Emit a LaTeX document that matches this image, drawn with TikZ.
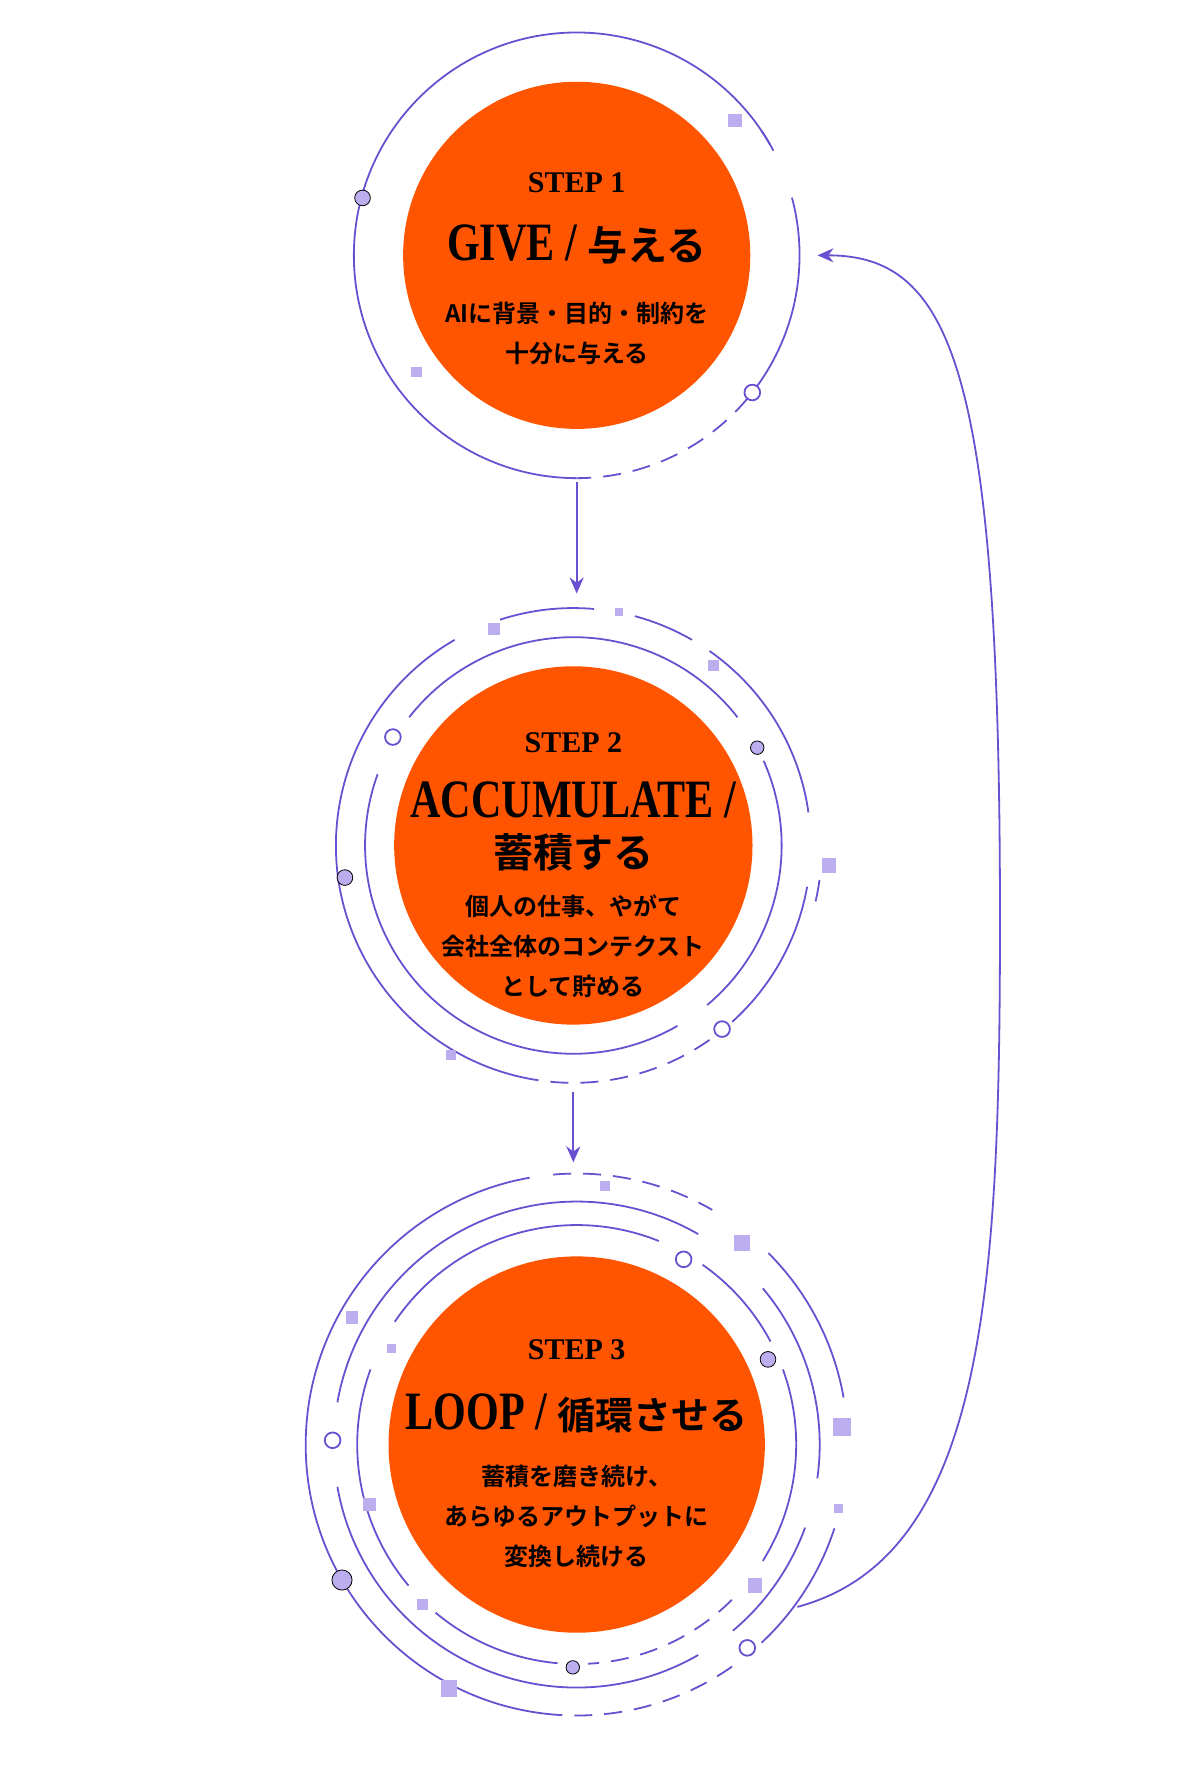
\documentclass[tikz,border=0pt]{standalone}
\usepackage{fontspec}
\setmainfont{Liberation Serif}
\newfontfamily\ttl{Liberation Serif}[FakeStretch=0.78]
\newfontfamily\jp{Noto Sans CJK JP}[BoldFont={Noto Sans CJK JP Bold}]
\usetikzlibrary{arrows.meta}
\definecolor{ringpurple}{HTML}{6A50D0}
\definecolor{lavender}{HTML}{BCADEE}
\definecolor{steporange}{HTML}{FF5400}

\begin{document}
\begin{tikzpicture}[x=0.56pt, y=-0.56pt,
  disc/.style={circle, fill=steporange, inner sep=0pt},
  ring/.style={draw=ringpurple, line width=0.9pt},
  dashring/.style={ring, dash pattern=on 9pt off 6pt},
  hollow/.style={draw=ringpurple, fill=white, line width=0.9pt},
  dot/.style={fill=lavender},
  txt/.style={font=\jp\bfseries\fontsize{12}{20}\selectfont, align=center},
  head/.style={font=\bfseries\fontsize{15}{15}\selectfont},
  title/.style={font=\ttl\bfseries\fontsize{27}{27}\selectfont},
  >={Stealth[length=8pt, width=7pt]}
]
  \useasboundingbox (0,0) rectangle (1057,1586);

  % Step circles
  \node[disc, minimum size=173.6pt] (c1) at (515,228)  {};
  \node[disc, minimum size=179.2pt] (c2) at (512,755)  {};
  \node[disc, minimum size=188.2pt] (c3) at (515,1290) {};

  % Step 1 texts
  \node[head]  (h1) at (515,163) {STEP 1};
  \node[title] (t1) at (515,218) {GIVE / {\jp\fontsize{20}{20}\selectfont 与える}};
  \node[txt]   (b1) at (515,298) {AIに背景・目的・制約を\\十分に与える};

  % Step 2 texts
  \node[head]  (h2) at (512,663) {STEP 2};
  \node[title, align=center] (t2) at (512,738)
    {ACCUMULATE /\\[-2pt]{\jp\fontsize{20}{24}\selectfont 蓄積する}};
  \node[txt]   (b2) at (512,845) {個人の仕事、やがて\\会社全体のコンテクスト\\として貯める};

  % Step 3 texts
  \node[head]  (h3) at (515,1205) {STEP 3};
  \node[title] (t3) at (515,1262) {LOOP / {\jp\fontsize{19}{19}\selectfont 循環させる}};
  \node[txt]   (b3) at (515,1354) {蓄積を磨き続け、\\あらゆるアウトプットに\\変換し続ける};

  % Ring around step 1
  \draw[ring] (c1.center) ++(90:199) arc[start angle=90, end angle=330, radius=199];
  \draw[dashring] (c1.center) ++(40:199) arc[start angle=40, end angle=90, radius=199];
  \draw[ring] (c1.center) ++(-15:199) arc[start angle=-15, end angle=40, radius=199];
  \draw[ring] (c1.center) ++(-34:199) arc[start angle=-34, end angle=-28, radius=199];
  \draw[hollow] (c1.center) ++(38:199) circle[radius=7];
  \draw[dot] (c1.center) ++(195:198) circle[radius=7];
  \fill[lavender] (c1.center) ++(146:178) rectangle ++(9,9);
  \fill[lavender] (c1.center) ++(-43:185) rectangle ++(12,12);

  % Rings around step 2
  \draw[ring] (c2.center) ++(100:212) arc[start angle=100, end angle=240, radius=212];
  \draw[dashring] (c2.center) ++(55:212) arc[start angle=55, end angle=100, radius=212];
  \draw[ring] (c2.center) ++(10:212) arc[start angle=10, end angle=48, radius=212];
  \draw[ring] (c2.center) ++(-55:212) arc[start angle=-55, end angle=-8, radius=212];
  \draw[ring] (c2.center) ++(252:212) arc[start angle=252, end angle=275, radius=212];
  \draw[ring] (c2.center) ++(285:212) arc[start angle=285, end angle=300, radius=212];
  \draw[ring] (c2.center) ++(60:186) arc[start angle=60, end angle=200, radius=186];
  \draw[ring] (c2.center) ++(218:186) arc[start angle=218, end angle=322, radius=186];
  \draw[ring] (c2.center) ++(-24:186) arc[start angle=-24, end angle=50, radius=186];
  \draw[ring] (c2.center) ++(8:222) arc[start angle=8, end angle=13, radius=222];
  \draw[hollow] (c2.center) ++(51:211) circle[radius=7];
  \draw[dot] (c2.center) ++(172:206) circle[radius=7];
  \draw[hollow] (c2.center) ++(211:188) circle[radius=7];
  \draw[dot] (c2.center) ++(-28:186) circle[radius=6];
  \fill[lavender] (c2.center) ++(122:215) rectangle ++(9,9);
  \fill[lavender] (c2.center) ++(3:222) rectangle ++(13,13);
  \fill[lavender] (c2.center) ++(-54:205) rectangle ++(10,10);
  \fill[lavender] (c2.center) ++(249:213) rectangle ++(11,11);
  \fill[lavender] (c2.center) ++(280:215) rectangle ++(7,7);

  % Rings around step 3
  \draw[ring] (c3.center) ++(95:242) arc[start angle=95, end angle=260, radius=242];
  \draw[dashring] (c3.center) ++(55:242) arc[start angle=55, end angle=95, radius=242];
  \draw[ring] (c3.center) ++(18:242) arc[start angle=18, end angle=47, radius=242];
  \draw[ring] (c3.center) ++(-45:242) arc[start angle=-45, end angle=-10, radius=242];
  \draw[dashring] (c3.center) ++(265:242) arc[start angle=265, end angle=300, radius=242];
  \draw[ring] (c3.center) ++(60:217) arc[start angle=60, end angle=170, radius=217];
  \draw[ring] (c3.center) ++(190:217) arc[start angle=190, end angle=300, radius=217];
  \draw[ring] (c3.center) ++(-40:217) arc[start angle=-40, end angle=8, radius=217];
  \draw[ring] (c3.center) ++(20:217) arc[start angle=20, end angle=50, radius=217];
  \draw[ring] (c3.center) ++(95:196) arc[start angle=95, end angle=130, radius=196];
  \draw[ring] (c3.center) ++(140:196) arc[start angle=140, end angle=200, radius=196];
  \draw[ring] (c3.center) ++(214:196) arc[start angle=214, end angle=292, radius=196];
  \draw[ring] (c3.center) ++(-55:196) arc[start angle=-55, end angle=-28, radius=196];
  \draw[ring] (c3.center) ++(-20:196) arc[start angle=-20, end angle=32, radius=196];
  \draw[dashring] (c3.center) ++(45:196) arc[start angle=45, end angle=87, radius=196];
  \draw[hollow] (c3.center) ++(50:237) circle[radius=7];
  \draw[dot] (c3.center) ++(91:199) circle[radius=6];
  \draw[dot] (c3.center) ++(150:242) circle[radius=9];
  \draw[hollow] (c3.center) ++(181:218) circle[radius=7];
  \draw[hollow] (c3.center) ++(-60:191) circle[radius=7];
  \draw[dot] (c3.center) ++(-24:187) circle[radius=7];
  \fill[lavender] (c3.center) ++(120:243) rectangle ++(15,15);
  \fill[lavender] (c3.center) ++(136:198) rectangle ++(10,10);
  \fill[lavender] (c3.center) ++(166:197) rectangle ++(12,12);
  \fill[lavender] (c3.center) ++(38:194) rectangle ++(13,13);
  \fill[lavender] (c3.center) ++(13:236) rectangle ++(8,8);
  \fill[lavender] (c3.center) ++(-6:230) rectangle ++(16,16);
  \fill[lavender] (c3.center) ++(208:192) rectangle ++(8,8);
  \fill[lavender] (c3.center) ++(210:238) rectangle ++(11,11);
  \fill[lavender] (c3.center) ++(-53:234) rectangle ++(14,14);
  \fill[lavender] (c3.center) ++(-85:236) rectangle ++(9,9);

  % Connectors
  \coordinate (o1) at (515,430);
  \coordinate (i2) at (515,530);
  \coordinate (o2) at (512,975);
  \coordinate (i3) at (512,1038);
  \coordinate (lo) at (712,1435);
  \coordinate (li) at (730,228);
  \draw[ring, ->] (o1) -- (i2);
  \draw[ring, ->] (o2) -- (i3);
  \draw[ring, ->] (lo) .. controls (880,1390) and (893,1150) .. (893,820)
    .. controls (893,330) and (850,228) .. (li);
\end{tikzpicture}
\end{document}
